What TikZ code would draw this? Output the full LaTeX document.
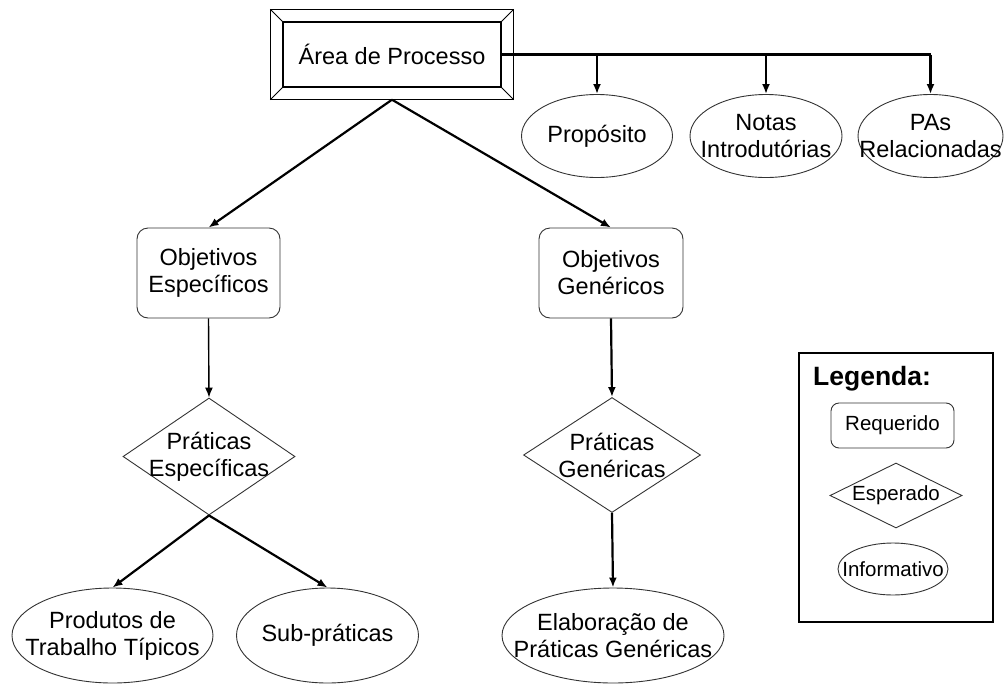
\documentclass[tikz,border=0pt]{standalone}
\usepackage{fontspec}
\setmainfont{Liberation Sans}
\usetikzlibrary{shapes.geometric,arrows.meta}

\tikzset{
    shapeline/.style={draw=black!80, line width=0.9pt},
    txt/.style={font=\fontsize{23.5}{27}\selectfont, align=center},
    smalltxt/.style={font=\fontsize{20.5}{24}\selectfont, align=center},
    reqbox/.style={shapeline, rectangle, rounded corners=11pt, inner sep=0pt},
    espbox/.style={shapeline, diamond, inner sep=0pt},
    infobox/.style={shapeline, ellipse, inner sep=0pt},
    conn/.style={line width=2.2pt, -{Latex[length=10pt,width=8pt]}},
    thinconn/.style={line width=1.4pt, -{Latex[length=10pt,width=8pt]}}
}

\begin{document}
\begin{tikzpicture}[x=1pt, y=-1pt]
    \useasboundingbox (0,0) rectangle (1005,686);

    % area de processo (double framed box)
    \node[draw, line width=1.4pt, minimum width=218pt, minimum height=65pt, txt] (area) at (392,54.5) {Área de Processo};
    \draw[line width=1.4pt] ([shift={(-12,-12)}]area.north west) coordinate (aoutnw)
        rectangle ([shift={(12,12)}]area.south east) coordinate (aoutse);
    \draw[line width=1pt] (area.north west) -- (aoutnw);
    \draw[line width=1pt] (area.south east) -- (aoutse);
    \draw[line width=1pt] (area.north east) -- (aoutse |- aoutnw);
    \draw[line width=1pt] (area.south west) -- (aoutnw |- aoutse);
    \coordinate (areabot) at (area.south |- aoutse);

    % informative items at the top
    \node[infobox, minimum width=151pt, minimum height=83pt, label={[txt]center:Propósito}] (prop) at (597,136) {};
    \node[infobox, minimum width=152pt, minimum height=83pt, label={[txt]center:Notas\\Introdutórias}] (notas) at (766,136) {};
    \node[infobox, minimum width=145pt, minimum height=83pt, label={[txt]center:PAs\\Relacionadas}] (pas) at (930.5,136) {};

    % goals
    \node[reqbox, minimum width=143pt, minimum height=90pt, label={[txt]center:Objetivos\\Específicos}] (objesp) at (208.5,273) {};
    \node[reqbox, minimum width=144pt, minimum height=90pt, label={[txt]center:Objetivos\\Genéricos}] (objgen) at (611,273) {};

    % practices
    \node[espbox, minimum width=172pt, minimum height=117pt, label={[txt]center:Práticas\\Específicas}] (pratesp) at (209,456.5) {};
    \node[espbox, minimum width=177pt, minimum height=115pt, label={[txt]center:Práticas\\Genéricas}] (pratgen) at (612,455) {};

    % bottom items
    \node[infobox, minimum width=201pt, minimum height=95pt, label={[txt]center:Produtos de\\Trabalho Típicos}] (prod) at (112.5,635.5) {};
    \node[infobox, minimum width=182pt, minimum height=95pt, label={[txt]center:Sub-práticas}] (sub) at (327.5,635.5) {};
    \node[infobox, minimum width=222pt, minimum height=95pt, label={[txt]center:Elaboração de\\Práticas Genéricas}] (elab) at (613,635.5) {};

    % connectors
    \draw[line width=2.2pt] (area.east) -- (pas.north |- area.east);
    \draw[conn] (prop.north |- area.east) -- (prop.north);
    \draw[conn] (notas.north |- area.east) -- (notas.north);
    \draw[conn] (pas.north |- area.east) -- (pas.north);
    \draw[conn] (areabot) -- (objesp.north);
    \draw[conn] (areabot) -- (objgen.north);
    \draw[thinconn] (objesp.south) -- (pratesp.north);
    \draw[conn] (objgen.south) -- (pratgen.north);
    \draw[conn] (pratesp.south) -- (prod.north);
    \draw[conn] (pratesp.south) -- (sub.north);
    \draw[conn] (pratgen.south) -- (elab.north);

    % legend
    \node[draw, line width=1.4pt, minimum width=194pt, minimum height=269pt] (legend) at (896,487.5) {};
    \node[anchor=west, inner sep=0pt, font=\bfseries\fontsize{26.5}{30}\selectfont] (legtitle) at (813,379) {Legenda:};
    \node[reqbox, rounded corners=8pt, minimum width=123pt, minimum height=45pt, label={[smalltxt]center:Requerido}] (legreq) at (892.5,425.5) {};
    \node[espbox, minimum width=132pt, minimum height=65pt, label={[smalltxt]center:Esperado}] (legesp) at (896,495.5) {};
    \node[infobox, minimum width=110pt, minimum height=52pt, label={[smalltxt]center:Informativo}] (leginf) at (893,569) {};
\end{tikzpicture}
\end{document}
